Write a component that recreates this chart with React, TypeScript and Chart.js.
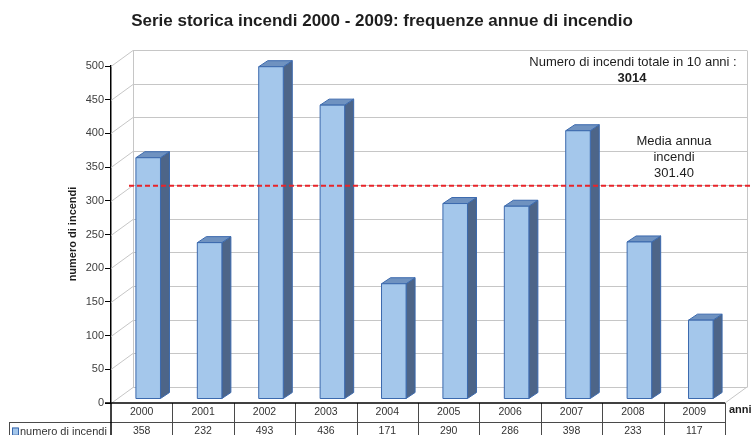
import React, { useEffect, useRef } from "react";
import { Chart, registerables } from "chart.js";

Chart.register(...registerables);

// ---- data ----
const years = ["2000", "2001", "2002", "2003", "2004", "2005", "2006", "2007", "2008", "2009"];
const fires = [358, 232, 493, 436, 171, 290, 286, 398, 233, 117];
const yTicks = [0, 50, 100, 150, 200, 250, 300, 350, 400, 450, 500];
const chartTitle = "Serie storica incendi 2000 - 2009: frequenze annue di incendio";
const yTitle = "numero di incendi";
const xTitle = "anni";
const seriesLabel = "numero di incendi";
const totalLabel = "Numero di incendi totale in 10 anni :";
const meanLabel = ["Media annua", "incendi"];

const total = fires.reduce((s, v) => s + v, 0);
const mean = total / fires.length;

const FONT = "'Liberation Sans', Arial, Helvetica, sans-serif";
const DEPTH = { x: 22, y: -16 };
const BAR_SHIFT = { x: 6.5, y: -4 };
const BAR_DEPTH = { x: 9, y: -6 };
const MEAN_SHIFT = -14;

const FRONT = "#a4c7eb";
const SIDE = "#4d6588";
const TOP = "#6f92c0";
const EDGE = "#3b69ad";

function line(ctx: CanvasRenderingContext2D, x1: number, y1: number, x2: number, y2: number) {
  ctx.beginPath();
  ctx.moveTo(x1, y1);
  ctx.lineTo(x2, y2);
  ctx.stroke();
}

function poly(ctx: CanvasRenderingContext2D, pts: number[][], fill: string, stroke: string) {
  ctx.beginPath();
  ctx.moveTo(pts[0][0], pts[0][1]);
  for (let i = 1; i < pts.length; i++) ctx.lineTo(pts[i][0], pts[i][1]);
  ctx.closePath();
  ctx.fillStyle = fill;
  ctx.fill();
  ctx.strokeStyle = stroke;
  ctx.lineWidth = 1;
  ctx.stroke();
}

const threeD = {
  id: "threeD",
  beforeDatasetsDraw(chart: any) {
    const { ctx, chartArea: a } = chart;
    const y = chart.scales.y;
    ctx.save();
    ctx.strokeStyle = "#c6c6c6";
    ctx.lineWidth = 1;
    yTicks.forEach((v) => {
      const py = Math.round(y.getPixelForValue(v)) + 0.5;
      ctx.beginPath();
      ctx.moveTo(a.left, py);
      ctx.lineTo(a.left + DEPTH.x, py + DEPTH.y);
      ctx.lineTo(a.right + DEPTH.x, py + DEPTH.y);
      ctx.stroke();
    });
    const top = Math.round(y.getPixelForValue(yTicks[yTicks.length - 1])) + 0.5 + DEPTH.y;
    const bot = Math.round(y.getPixelForValue(0)) + 0.5 + DEPTH.y;
    line(ctx, a.left + DEPTH.x + 0.5, top, a.left + DEPTH.x + 0.5, bot);
    line(ctx, a.right + DEPTH.x + 0.5, top, a.right + DEPTH.x + 0.5, bot);
    line(ctx, a.right, a.bottom, a.right + DEPTH.x, a.bottom + DEPTH.y);
    ctx.restore();
  },
  afterDatasetsDraw(chart: any) {
    const { ctx, chartArea: a } = chart;
    const y = chart.scales.y;
    const x = chart.scales.x;
    const W = chart.width;
    const H = chart.height;
    ctx.save();

    // 3D bars
    const meta = chart.getDatasetMeta(0);
    meta.data.forEach((el: any) => {
      const p = el.getProps(["x", "y", "base", "width"], true);
      const l = p.x - p.width / 2 + BAR_SHIFT.x;
      const r = p.x + p.width / 2 + BAR_SHIFT.x;
      const t = p.y + BAR_SHIFT.y;
      const b = p.base + BAR_SHIFT.y;
      poly(ctx, [[r, t], [r + BAR_DEPTH.x, t + BAR_DEPTH.y], [r + BAR_DEPTH.x, b + BAR_DEPTH.y], [r, b]], SIDE, EDGE);
      poly(ctx, [[l, t], [l + BAR_DEPTH.x, t + BAR_DEPTH.y], [r + BAR_DEPTH.x, t + BAR_DEPTH.y], [r, t]], TOP, EDGE);
      poly(ctx, [[l, t], [r, t], [r, b], [l, b]], FRONT, EDGE);
    });

    // mean dashed line
    const my = y.getPixelForValue(mean) + MEAN_SHIFT;
    ctx.strokeStyle = "#e8242a";
    ctx.lineWidth = 2;
    ctx.setLineDash([5, 3]);
    line(ctx, a.left + 18, my, W, my);
    ctx.setLineDash([]);

    // title
    ctx.fillStyle = "#1e1e1e";
    ctx.textBaseline = "middle";
    ctx.textAlign = "center";
    ctx.font = `bold 17px ${FONT}`;
    ctx.fillText(chartTitle, 382, 21);

    // y title
    ctx.save();
    ctx.translate(73, 234);
    ctx.rotate(-Math.PI / 2);
    ctx.font = `bold 11px ${FONT}`;
    ctx.fillStyle = "#1e1e1e";
    ctx.fillText(yTitle, 0, 0);
    ctx.restore();

    // annotations
    ctx.fillStyle = "#1e1e1e";
    ctx.font = `13px ${FONT}`;
    ctx.fillText(totalLabel, 633, 62.5);
    ctx.font = `bold 13px ${FONT}`;
    ctx.fillText(String(total), 632, 78);
    ctx.font = `13px ${FONT}`;
    ctx.fillText(meanLabel[0], 674, 141);
    ctx.fillText(meanLabel[1], 674, 157);
    ctx.fillText(mean.toFixed(2), 674, 173);

    // data table
    const n = years.length;
    const colW = (a.right - a.left) / n;
    const row1Top = a.bottom;
    const row2Top = a.bottom + 18.5;
    ctx.strokeStyle = "#4a4a4a";
    ctx.lineWidth = 1;
    line(ctx, 9, Math.round(row2Top) + 0.5, a.right, Math.round(row2Top) + 0.5);
    line(ctx, 9.5, Math.round(row2Top), 9.5, H);
    for (let i = 1; i <= n; i++) {
      const bx = Math.round(a.left + i * colW) + 0.5;
      line(ctx, bx, row1Top, bx, H);
    }
    ctx.strokeStyle = "#000";
    ctx.lineWidth = 1.5;
    line(ctx, a.left, row1Top, a.left, H);
    line(ctx, a.left - 6, row1Top, a.right, row1Top);

    ctx.fillStyle = "#333";
    ctx.font = `10.5px ${FONT}`;
    ctx.textAlign = "center";
    years.forEach((yr, i) => {
      const cx = x.getPixelForValue(i);
      ctx.fillText(yr, cx, row1Top + 9.5);
      ctx.fillText(String(fires[i]), cx, row2Top + 10);
    });

    // legend key in table
    ctx.fillStyle = FRONT;
    ctx.fillRect(12, row2Top + 6, 6, 7);
    ctx.strokeStyle = EDGE;
    ctx.lineWidth = 1;
    ctx.strokeRect(12.5, row2Top + 6.5, 6, 7);
    ctx.fillStyle = "#333";
    ctx.textAlign = "left";
    ctx.font = `11px ${FONT}`;
    ctx.fillText(seriesLabel, 20, row2Top + 10);

    // x title
    ctx.font = `bold 11px ${FONT}`;
    ctx.fillStyle = "#1e1e1e";
    ctx.fillText(xTitle, a.right + 4, row1Top + 7);

    ctx.restore();
  },
};

export default function App() {
  const ref = useRef<HTMLCanvasElement | null>(null);
  useEffect(() => {
    if (!ref.current) return;
    const chart = new Chart(ref.current, {
      type: "bar",
      data: {
        labels: years,
        datasets: [
          {
            label: seriesLabel,
            data: fires,
            backgroundColor: "rgba(0,0,0,0)",
            borderWidth: 0,
            barPercentage: 0.4,
            categoryPercentage: 1,
          },
        ],
      },
      options: {
        responsive: false,
        animation: false,
        devicePixelRatio: 1,
        layout: { padding: { left: 0, right: 27, top: 66, bottom: 32 } },
        plugins: { legend: { display: false }, tooltip: { enabled: false }, title: { display: false } },
        scales: {
          x: { display: false, offset: true },
          y: {
            min: 0,
            max: 500,
            afterFit: (s: any) => {
              s.width = 111;
            },
            afterBuildTicks: (s: any) => {
              s.ticks = yTicks.map((v) => ({ value: v }));
            },
            grid: { drawOnChartArea: false, drawTicks: true, tickLength: 6, color: "#000", lineWidth: 1 },
            border: { display: true, color: "#000", width: 1.5 },
            ticks: { padding: 1, color: "#404040", font: { family: FONT, size: 11 } },
          },
        },
      },
      plugins: [threeD],
    });
    return () => chart.destroy();
  }, []);
  return (
    <div style={{ position: "fixed", left: 0, top: 0, width: 752, height: 435, background: "#fff" }}>
      <canvas ref={ref} width={752} height={435} />
    </div>
  );
}
